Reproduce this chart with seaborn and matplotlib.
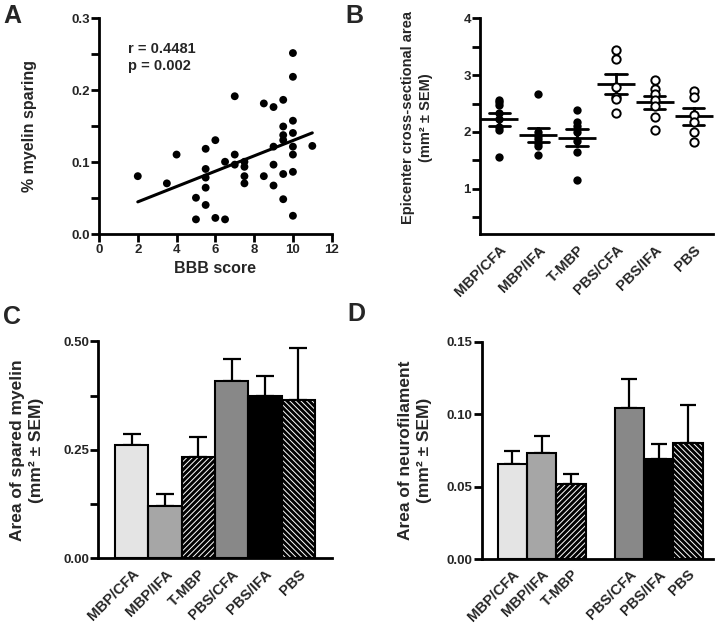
import numpy as np
import pandas as pd
import matplotlib
matplotlib.use("Agg")
import matplotlib.pyplot as plt
import seaborn as sns

# ---------------- data ----------------
# Panel A: BBB score vs % myelin sparing
bbb = [2, 3.5, 4, 5, 5, 5.5, 5.5, 5.5, 5.5, 5.5, 6, 6, 6.5, 6.5, 7, 7, 7,
       7.5, 7.5, 7.5, 7.5, 8.5, 8.5, 9, 9, 9, 9, 9.5, 9.5, 9.5, 9.5, 9.5, 9.5,
       10, 10, 10, 10, 10, 10, 10, 10, 11]
sparing = [0.081, 0.071, 0.111, 0.051, 0.021, 0.041, 0.065, 0.079, 0.091, 0.119,
           0.131, 0.023, 0.021, 0.101, 0.111, 0.192, 0.097, 0.101, 0.094, 0.081,
           0.071, 0.182, 0.081, 0.177, 0.122, 0.097, 0.068, 0.187, 0.150, 0.138,
           0.131, 0.084, 0.049, 0.252, 0.219, 0.158, 0.141, 0.122, 0.111, 0.087,
           0.026, 0.123]
stat_lines = ["r = 0.4481", "p = 0.002"]

groups = ["MBP/CFA", "MBP/IFA", "T-MBP", "PBS/CFA", "PBS/IFA", "PBS"]

# Panel B: epicenter cross-sectional area (individual animals)
area_mbp_cfa = [2.57, 2.52, 2.47, 2.33, 2.22, 2.09, 2.03, 1.56]
area_mbp_ifa = [2.67, 2.00, 1.93, 1.87, 1.80, 1.75, 1.60]
area_t_mbp = [2.38, 2.17, 2.10, 2.00, 1.85, 1.65, 1.16]
area_pbs_cfa = [3.45, 3.28, 2.80, 2.62, 2.58, 2.33]
area_pbs_ifa = [2.92, 2.76, 2.67, 2.57, 2.45, 2.27, 2.03]
area_pbs = [2.72, 2.62, 2.30, 2.18, 2.00, 1.82]
open_groups = ["PBS/CFA", "PBS/IFA", "PBS"]

# Panel C: spared myelin
myelin_mean = [0.261, 0.120, 0.235, 0.409, 0.374, 0.366]
myelin_sem = [0.025, 0.029, 0.044, 0.051, 0.046, 0.119]

# Panel D: neurofilament
nf_mean = [0.0655, 0.0735, 0.0519, 0.1042, 0.0687, 0.0804]
nf_sem = [0.0090, 0.0111, 0.0067, 0.0198, 0.0108, 0.0261]

bar_colors = ["#e4e4e4", "#a6a6a6", "#000000", "#888888", "#000000", "#000000"]
bar_hatch = ["", "", "//////", "", "", "\\\\\\\\\\\\"]

# ---------------- style ----------------
sns.set_style("ticks")
plt.rcParams["font.family"] = ["Liberation Sans", "DejaVu Sans"]
plt.rcParams["font.weight"] = "bold"
plt.rcParams["axes.labelweight"] = "bold"
plt.rcParams["hatch.linewidth"] = 0.7

fig = plt.figure(figsize=(7.2, 6.31), dpi=100)
axA = fig.add_axes([0.1375, 0.6284, 0.3232, 0.3423])
axB = fig.add_axes([0.6667, 0.6287, 0.3236, 0.3423])
axC = fig.add_axes([0.1365, 0.1149, 0.3242, 0.3439])
axD = fig.add_axes([0.6690, 0.1141, 0.3210, 0.3444])

TICK_FS = 9.5
LAB_FS = 11.5
LAB_FS_B = 10.5
LAB_FS_CD = 12.5
CAT_FS = 10.5


def style_axis(ax):
    for s in ["top", "right"]:
        ax.spines[s].set_visible(False)
    for s in ["left", "bottom"]:
        ax.spines[s].set_linewidth(2)
        ax.spines[s].set_color("black")
    ax.tick_params(axis="both", which="both", direction="out", width=2,
                   color="black", labelsize=TICK_FS, pad=1)
    ax.tick_params(axis="both", which="major", length=5.5)
    ax.tick_params(axis="both", which="minor", length=5.5)
    for lab in ax.get_xticklabels() + ax.get_yticklabels():
        lab.set_fontweight("bold")


# ---------------- Panel A ----------------
dfA = pd.DataFrame({"bbb": bbb, "sparing": sparing})
sns.regplot(data=dfA, x="bbb", y="sparing", ax=axA, ci=None, truncate=True,
            scatter_kws=dict(s=32, color="black", edgecolor="none", alpha=1),
            line_kws=dict(color="black", linewidth=2.2))
axA.set_xlim(0, 12)
axA.set_ylim(0, 0.3)
axA.set_xticks(np.arange(0, 13, 2))
axA.set_yticks([0.0, 0.1, 0.2, 0.3])
axA.set_yticks([0.05, 0.15, 0.25], minor=True)
axA.set_yticklabels(["0.0", "0.1", "0.2", "0.3"])
axA.set_xlabel("BBB score", fontsize=LAB_FS, fontweight="bold", labelpad=4)
axA.set_ylabel("% myelin sparing", fontsize=LAB_FS, fontweight="bold")
axA.yaxis.set_label_coords(-0.266, 0.5)
axA.text(1.5, 0.258, stat_lines[0], fontsize=10.5, fontweight="bold", va="center")
axA.text(1.5, 0.234, stat_lines[1], fontsize=10.5, fontweight="bold", va="center")
style_axis(axA)

# ---------------- Panel B ----------------
area_lists = [area_mbp_cfa, area_mbp_ifa, area_t_mbp, area_pbs_cfa, area_pbs_ifa, area_pbs]
rows = []
for g, vals in zip(groups, area_lists):
    for v in vals:
        rows.append({"group": g, "area": v, "open": g in open_groups})
dfB = pd.DataFrame(rows)
sns.pointplot(data=dfB, x="group", y="area", order=groups, ax=axB,
              errorbar="se", capsize=0.55, color="black", linestyle="none",
              marker="_", markersize=27, markeredgewidth=2,
              err_kws=dict(linewidth=2), zorder=3)
sns.stripplot(data=dfB[~dfB["open"]], x="group", y="area", order=groups, ax=axB,
              jitter=False, color="black", size=6, linewidth=0, zorder=4)
sns.stripplot(data=dfB[dfB["open"]], x="group", y="area", order=groups, ax=axB,
              jitter=False, color="white", edgecolor="black", size=6,
              linewidth=1.4, zorder=4)
axB.set_xlim(-0.5, 5.5)
axB.set_ylim(0.2, 4.0)
axB.set_yticks([1, 2, 3, 4])
axB.set_yticks([0.5, 1.5, 2.5, 3.5], minor=True)
axB.set_xlabel("")
axB.set_ylabel("Epicenter cross-sectional area\n(mm² ± SEM)", fontsize=LAB_FS_B,
               fontweight="bold", linespacing=1.4)
axB.yaxis.set_label_coords(-0.20, 0.54)
style_axis(axB)
axB.tick_params(axis="x", length=0, pad=6)
axB.set_xticks(range(len(groups)))
axB.set_xticklabels(groups, rotation=45, ha="right", rotation_mode="anchor",
                    fontsize=CAT_FS, fontweight="bold")


# ---------------- bar panels ----------------
def bar_panel(ax, means, sems, order, capsize):
    df = pd.DataFrame({"group": groups, "value": means})
    pal = dict(zip(groups, bar_colors))
    sns.barplot(data=df, x="group", y="value", hue="group", order=order,
                hue_order=groups, palette=pal, legend=False, errorbar=None,
                width=1.0, saturation=1, ax=ax, linewidth=0, zorder=2)
    # apply hatches (white lines on black)
    for p in list(ax.patches):
        cx = p.get_x() + p.get_width() / 2
        idx = int(round(cx))
        name = order[idx]
        if name in groups:
            h = bar_hatch[groups.index(name)]
            if h:
                p.set_hatch(h)
                p.set_edgecolor("white")
                p.set_linewidth(0)
    # outlines
    sns.barplot(data=df, x="group", y="value", order=order, fill=False,
                color="black", errorbar=None, width=1.0, linewidth=1.5,
                ax=ax, zorder=3)
    pos = [order.index(g) for g in groups]
    ax.errorbar(pos, means, yerr=[np.zeros(len(means)), sems], fmt="none",
                ecolor="black", elinewidth=1.6, capsize=capsize, capthick=1.6,
                zorder=1)
    ax.set_xlabel("")
    style_axis(ax)
    ax.tick_params(axis="x", length=0, pad=6)
    ax.set_xticks(range(len(order)))
    ax.set_xticklabels(order, rotation=45, ha="right", rotation_mode="anchor",
                       fontsize=CAT_FS, fontweight="bold")


bar_panel(axC, myelin_mean, myelin_sem, groups, 6.5)
axC.set_xlim(-1.0, 6.0)
axC.set_ylim(0, 0.5)
axC.set_yticks([0.0, 0.25, 0.5])
axC.set_yticks([0.125, 0.375], minor=True)
axC.set_yticklabels(["0.00", "0.25", "0.50"], fontweight="bold")
axC.set_ylabel("Area of spared myelin\n(mm² ± SEM)", fontsize=LAB_FS_CD,
               fontweight="bold", linespacing=1.3)
axC.yaxis.set_label_coords(-0.233, 0.5)

order_D = groups[:3] + [""] + groups[3:]
bar_panel(axD, nf_mean, nf_sem, order_D, 5.6)
axD.set_xlim(-1.05, 6.85)
axD.set_ylim(0, 0.15)
axD.set_yticks([0.0, 0.05, 0.10, 0.15])
axD.set_yticklabels(["0.00", "0.05", "0.10", "0.15"], fontweight="bold")
axD.set_ylabel("Area of neurofilament\n(mm² ± SEM)", fontsize=LAB_FS_CD,
               fontweight="bold", linespacing=1.3)
axD.yaxis.set_label_coords(-0.216, 0.5)

# panel letters
for lab, x, y in [("A", 0.004, 0.993), ("B", 0.479, 0.994),
                  ("C", 0.004, 0.517), ("D", 0.482, 0.522)]:
    fig.text(x, y, lab, fontsize=18, fontweight="bold", va="top", ha="left")

fig.savefig("out.png", dpi=100)
